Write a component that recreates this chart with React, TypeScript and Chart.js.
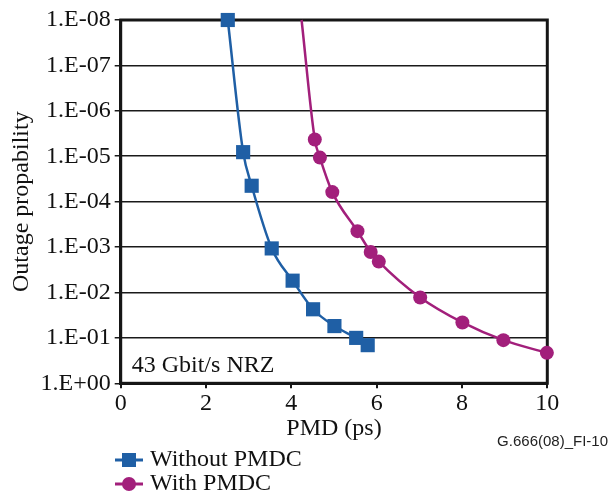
import React, { useEffect, useRef } from "react";
import { Chart, registerables } from "chart.js";

Chart.register(...registerables);

const yTickLabels = ["1.E+00", "1.E-01", "1.E-02", "1.E-03", "1.E-04", "1.E-05", "1.E-06", "1.E-07", "1.E-08"];

const withoutX = [2.51, 2.87, 3.07, 3.54, 4.03, 4.51, 5.01, 5.52, 5.79];
const withoutY = [8.0, 5.09, 4.35, 2.97, 2.26, 1.63, 1.26, 1.0, 0.84];

const withX = [4.24, 4.55, 4.67, 4.96, 5.55, 5.86, 6.05, 7.02, 8.01, 8.97, 9.99];
const withY = [8.0, 5.37, 4.97, 4.21, 3.35, 2.89, 2.68, 1.89, 1.34, 0.95, 0.67];
const withMarkerShown = [false, true, true, true, true, true, true, true, true, true, true];

const seriesNames = ["Without PMDC", "With PMDC"];
const annotationText = "43 Gbit/s NRZ";
const figureId = "G.666(08)_FI-10";

const BLUE = "#1f5fa5";
const MAGENTA = "#a21f7b";
const SERIF = "'Liberation Serif', 'Times New Roman', serif";
const FS = 24;

const framePlugin = {
  id: "frame",
  beforeDatasetsDraw(chart: any) {
    const { ctx, chartArea } = chart;
    ctx.save();
    ctx.strokeStyle = "#161616";
    ctx.lineWidth = 3;
    ctx.strokeRect(chartArea.left, chartArea.top, chartArea.right - chartArea.left, chartArea.bottom - chartArea.top);
    ctx.restore();
  },
  afterDraw(chart: any) {
    const { ctx, chartArea } = chart;
    ctx.save();
    ctx.fillStyle = "#111";
    ctx.font = `${FS}px ${SERIF}`;
    ctx.textBaseline = "middle";
    ctx.textAlign = "left";
    ctx.fillText(annotationText, chartArea.left + 11, chartArea.bottom - 18);

    ctx.font = "15px 'Liberation Sans', Arial, sans-serif";
    ctx.fillStyle = "#222";
    ctx.textAlign = "right";
    ctx.fillText(figureId, 608, 442);

    // legend
    const ds = chart.data.datasets;
    const rows = [460, 484];
    ds.forEach((d: any, i: number) => {
      const y = rows[i];
      ctx.strokeStyle = d.borderColor;
      ctx.lineWidth = 3;
      ctx.beginPath();
      ctx.moveTo(115, y);
      ctx.lineTo(143, y);
      ctx.stroke();
      ctx.fillStyle = d.borderColor;
      if (d.pointStyle === "rect") {
        ctx.fillRect(129 - 7, y - 7, 14, 14);
      } else {
        ctx.beginPath();
        ctx.arc(129, y, 7, 0, Math.PI * 2);
        ctx.fill();
      }
      ctx.fillStyle = "#111";
      ctx.font = `${FS}px ${SERIF}`;
      ctx.textAlign = "left";
      ctx.textBaseline = "middle";
      ctx.fillText(d.label, 150, y);
    });
    ctx.restore();
  },
};

export default function App() {
  const ref = useRef<HTMLCanvasElement | null>(null);
  useEffect(() => {
    if (!ref.current) return;
    const chart = new Chart(ref.current, {
      type: "line",
      data: {
        datasets: [
          {
            label: seriesNames[0],
            data: withoutX.map((x, i) => ({ x, y: withoutY[i] })),
            borderColor: BLUE,
            backgroundColor: BLUE,
            borderWidth: 2.5,
            pointStyle: "rect",
            pointRadius: 10,
            pointBorderWidth: 0,
            cubicInterpolationMode: "monotone",
            clip: false as any,
          },
          {
            label: seriesNames[1],
            data: withX.map((x, i) => ({ x, y: withY[i] })),
            borderColor: MAGENTA,
            backgroundColor: MAGENTA,
            borderWidth: 2.5,
            pointStyle: "circle",
            pointRadius: withMarkerShown.map((s) => (s ? 7 : 0)),
            pointBorderWidth: 0,
            cubicInterpolationMode: "monotone",
            clip: false as any,
          },
        ],
      },
      options: {
        animation: false,
        responsive: false,
        devicePixelRatio: 1,
        layout: { padding: { left: 0, right: 66.7, top: 20, bottom: 50.7 } },
        plugins: {
          legend: { display: false },
          tooltip: { enabled: false },
        },
        scales: {
          x: {
            type: "linear",
            min: 0,
            max: 10,
            ticks: { stepSize: 2, color: "#111", font: { family: SERIF, size: FS }, padding: 1, maxRotation: 0 },
            grid: { drawOnChartArea: false, drawTicks: true, tickLength: 5, color: "#161616", lineWidth: 2 },
            border: { display: true, color: "#161616", width: 3 },
            title: { display: true, text: "PMD (ps)", color: "#111", font: { family: SERIF, size: FS }, padding: { top: 0, bottom: 0 } },
            afterFit: (s: any) => {
              s.height = 60;
            },
          },
          y: {
            type: "linear",
            min: 0,
            max: 8,
            ticks: {
              stepSize: 1,
              color: "#111",
              font: { family: SERIF, size: FS },
              padding: 4,
              callback: (v: any) => yTickLabels[Math.round(Number(v))] ?? "",
            },
            grid: { drawOnChartArea: true, drawTicks: true, tickLength: 6, color: "#1a1a1a", lineWidth: 1.5 },
            border: { display: true, color: "#161616", width: 3 },
            title: { display: true, text: "Outage propability", color: "#111", font: { family: SERIF, size: FS }, padding: { top: 7, bottom: 0 } },
            afterFit: (s: any) => {
              s.width = 120.7;
            },
          },
        },
      },
      plugins: [framePlugin],
    } as any);
    return () => chart.destroy();
  }, []);
  return (
    <div style={{ position: "fixed", left: 0, top: 0, width: 614, height: 494, background: "#fff" }}>
      <canvas ref={ref} width={614} height={494} style={{ width: 614, height: 494, display: "block" }} />
    </div>
  );
}
